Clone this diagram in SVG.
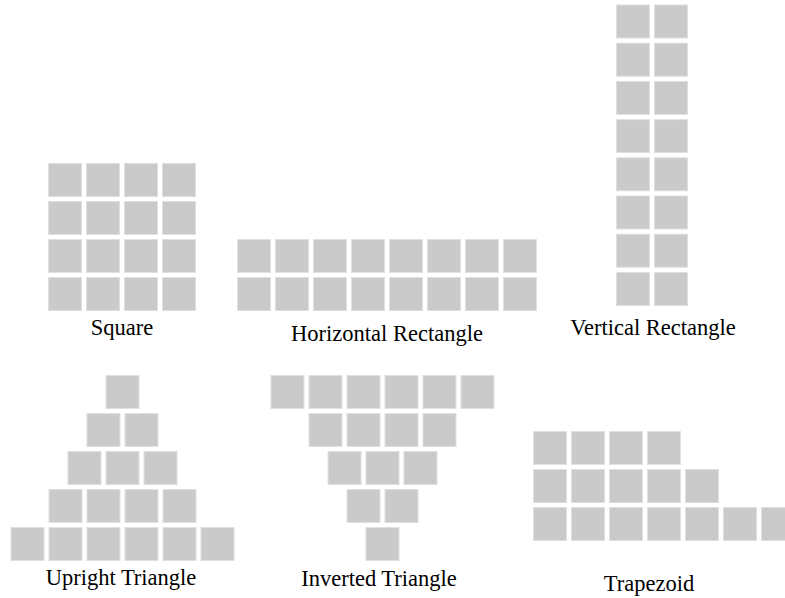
<svg xmlns="http://www.w3.org/2000/svg" width="785" height="598" viewBox="0 0 785 598">
<style>
.t{fill:#cacaca;stroke:#e0e0e0;stroke-width:1}
.l{font-family:"Liberation Serif","Times New Roman",Times,serif;font-size:22.5px;fill:#000;text-anchor:middle}
</style>
<defs><rect id="tile" class="t" x="0.5" y="0.5" width="33" height="33"/></defs>
<rect width="785" height="598" fill="#fff"/>
<g id="square">
<use href="#tile" x="48" y="163"/><use href="#tile" x="86" y="163"/><use href="#tile" x="124" y="163"/><use href="#tile" x="162" y="163"/>
<use href="#tile" x="48" y="201"/><use href="#tile" x="86" y="201"/><use href="#tile" x="124" y="201"/><use href="#tile" x="162" y="201"/>
<use href="#tile" x="48" y="239"/><use href="#tile" x="86" y="239"/><use href="#tile" x="124" y="239"/><use href="#tile" x="162" y="239"/>
<use href="#tile" x="48" y="277"/><use href="#tile" x="86" y="277"/><use href="#tile" x="124" y="277"/><use href="#tile" x="162" y="277"/>
<text class="l" x="122" y="335">Square</text>
</g>
<g id="horizontal-rectangle">
<use href="#tile" x="237" y="239"/><use href="#tile" x="275" y="239"/><use href="#tile" x="313" y="239"/><use href="#tile" x="351" y="239"/><use href="#tile" x="389" y="239"/><use href="#tile" x="427" y="239"/><use href="#tile" x="465" y="239"/><use href="#tile" x="503" y="239"/>
<use href="#tile" x="237" y="277"/><use href="#tile" x="275" y="277"/><use href="#tile" x="313" y="277"/><use href="#tile" x="351" y="277"/><use href="#tile" x="389" y="277"/><use href="#tile" x="427" y="277"/><use href="#tile" x="465" y="277"/><use href="#tile" x="503" y="277"/>
<text class="l" x="387" y="340.5">Horizontal Rectangle</text>
</g>
<g id="vertical-rectangle">
<use href="#tile" x="616" y="4.5"/><use href="#tile" x="654" y="4.5"/>
<use href="#tile" x="616" y="42.7"/><use href="#tile" x="654" y="42.7"/>
<use href="#tile" x="616" y="80.9"/><use href="#tile" x="654" y="80.9"/>
<use href="#tile" x="616" y="119.1"/><use href="#tile" x="654" y="119.1"/>
<use href="#tile" x="616" y="157.3"/><use href="#tile" x="654" y="157.3"/>
<use href="#tile" x="616" y="195.5"/><use href="#tile" x="654" y="195.5"/>
<use href="#tile" x="616" y="233.7"/><use href="#tile" x="654" y="233.7"/>
<use href="#tile" x="616" y="272"/><use href="#tile" x="654" y="272"/>
<text class="l" x="653" y="335">Vertical Rectangle</text>
</g>
<g id="upright-triangle">
<use href="#tile" x="105.5" y="375"/>
<use href="#tile" x="86.5" y="413"/><use href="#tile" x="124.5" y="413"/>
<use href="#tile" x="67.5" y="451"/><use href="#tile" x="105.5" y="451"/><use href="#tile" x="143.5" y="451"/>
<use href="#tile" x="48.5" y="489"/><use href="#tile" x="86.5" y="489"/><use href="#tile" x="124.5" y="489"/><use href="#tile" x="162.5" y="489"/>
<use href="#tile" x="10.5" y="527"/><use href="#tile" x="48.5" y="527"/><use href="#tile" x="86.5" y="527"/><use href="#tile" x="124.5" y="527"/><use href="#tile" x="162.5" y="527"/><use href="#tile" x="200.5" y="527"/>
<text class="l" x="121" y="585">Upright Triangle</text>
</g>
<g id="inverted-triangle">
<use href="#tile" x="270.5" y="375"/><use href="#tile" x="308.5" y="375"/><use href="#tile" x="346.5" y="375"/><use href="#tile" x="384.5" y="375"/><use href="#tile" x="422.5" y="375"/><use href="#tile" x="460.5" y="375"/>
<use href="#tile" x="308.5" y="413"/><use href="#tile" x="346.5" y="413"/><use href="#tile" x="384.5" y="413"/><use href="#tile" x="422.5" y="413"/>
<use href="#tile" x="327.5" y="451"/><use href="#tile" x="365.5" y="451"/><use href="#tile" x="403.5" y="451"/>
<use href="#tile" x="346.5" y="489"/><use href="#tile" x="384.5" y="489"/>
<use href="#tile" x="365.5" y="527"/>
<text class="l" x="379" y="586">Inverted Triangle</text>
</g>
<g id="trapezoid">
<use href="#tile" x="533" y="431"/><use href="#tile" x="571" y="431"/><use href="#tile" x="609" y="431"/><use href="#tile" x="647" y="431"/>
<use href="#tile" x="533" y="469"/><use href="#tile" x="571" y="469"/><use href="#tile" x="609" y="469"/><use href="#tile" x="647" y="469"/><use href="#tile" x="685" y="469"/>
<use href="#tile" x="533" y="507"/><use href="#tile" x="571" y="507"/><use href="#tile" x="609" y="507"/><use href="#tile" x="647" y="507"/><use href="#tile" x="685" y="507"/><use href="#tile" x="723" y="507"/><use href="#tile" x="761" y="507"/>
<text class="l" x="649" y="591">Trapezoid</text>
</g>
<g id="connectors"/>
</svg>
